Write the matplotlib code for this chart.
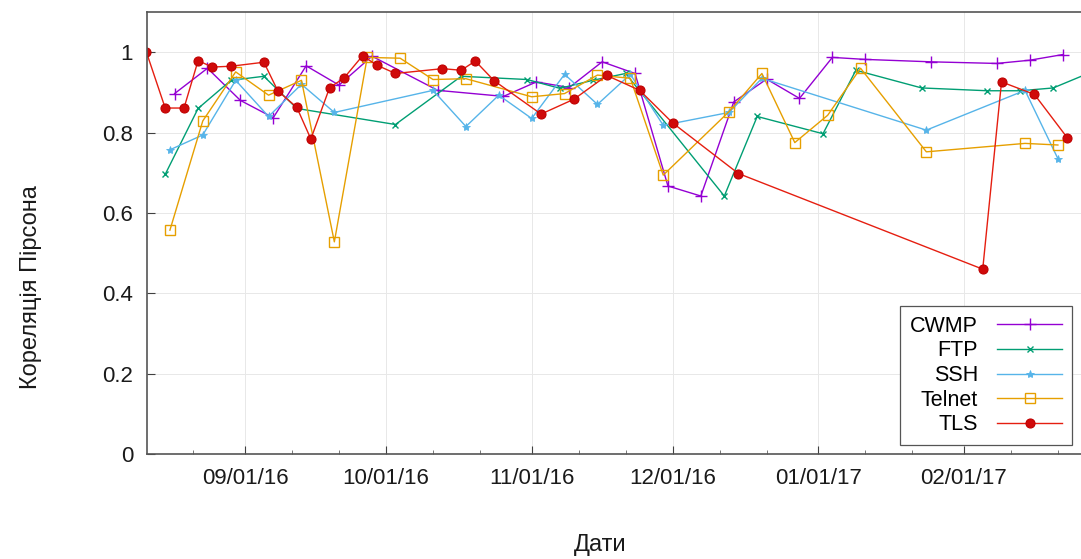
import matplotlib
matplotlib.use('Agg')
import matplotlib.pyplot as plt
import matplotlib.dates as mdates
import pandas as pd

# ---------------- data ----------------
cwmp_dates = ['2016-08-17', '2016-08-24', '2016-08-31', '2016-09-07', '2016-09-14', '2016-09-21',
              '2016-09-28', '2016-10-12', '2016-10-26', '2016-11-02', '2016-11-09', '2016-11-16',
              '2016-11-23', '2016-11-30', '2016-12-07', '2016-12-14', '2016-12-21', '2016-12-28',
              '2017-01-04', '2017-01-11', '2017-01-25', '2017-02-08', '2017-02-15', '2017-02-22']
cwmp_vals = [0.897, 0.96, 0.88, 0.837, 0.966, 0.918,
             0.99, 0.905, 0.89, 0.926, 0.912, 0.976,
             0.947, 0.667, 0.642, 0.876, 0.933, 0.885,
             0.987, 0.982, 0.976, 0.972, 0.98, 0.994]

ftp_dates = ['2016-08-15', '2016-08-22', '2016-08-29', '2016-09-05', '2016-09-12', '2016-10-03',
             '2016-10-17', '2016-10-31', '2016-11-07', '2016-11-14', '2016-11-21', '2016-12-12',
             '2016-12-19', '2017-01-02', '2017-01-09', '2017-01-23', '2017-02-06', '2017-02-13',
             '2017-02-20', '2017-02-27']
ftp_vals = [0.696, 0.86, 0.93, 0.94, 0.86, 0.82,
            0.94, 0.932, 0.91, 0.93, 0.947, 0.642,
            0.84, 0.797, 0.955, 0.911, 0.904, 0.904,
            0.911, 0.945]

ssh_dates = ['2016-08-16', '2016-08-23', '2016-08-30', '2016-09-06', '2016-09-13', '2016-09-20',
             '2016-10-11', '2016-10-18', '2016-10-25', '2016-11-01', '2016-11-08', '2016-11-15',
             '2016-11-22', '2016-11-29', '2016-12-13', '2016-12-20', '2017-01-24', '2017-02-14',
             '2017-02-21']
ssh_vals = [0.757, 0.794, 0.93, 0.84, 0.92, 0.85,
            0.905, 0.815, 0.893, 0.835, 0.945, 0.87,
            0.945, 0.818, 0.85, 0.935, 0.806, 0.905,
            0.735]

telnet_dates = ['2016-08-16', '2016-08-23', '2016-08-30', '2016-09-06', '2016-09-13', '2016-09-20',
                '2016-09-27', '2016-10-04', '2016-10-11', '2016-10-18', '2016-11-01', '2016-11-08',
                '2016-11-15', '2016-11-22', '2016-11-29', '2016-12-13', '2016-12-20', '2016-12-27',
                '2017-01-03', '2017-01-10', '2017-01-24', '2017-02-14', '2017-02-21']
telnet_vals = [0.557, 0.829, 0.951, 0.893, 0.93, 0.528,
               0.987, 0.985, 0.932, 0.934, 0.889, 0.897,
               0.943, 0.935, 0.694, 0.852, 0.947, 0.775,
               0.843, 0.96, 0.752, 0.773, 0.769]

tls_dates = ['2016-08-11', '2016-08-15', '2016-08-19', '2016-08-22', '2016-08-25', '2016-08-29',
             '2016-09-05', '2016-09-08', '2016-09-12', '2016-09-15', '2016-09-19', '2016-09-22',
             '2016-09-26', '2016-09-29', '2016-10-03', '2016-10-13', '2016-10-17', '2016-10-20',
             '2016-10-24', '2016-11-03', '2016-11-10', '2016-11-17', '2016-11-24', '2016-12-01',
             '2016-12-15', '2017-02-05', '2017-02-09', '2017-02-16', '2017-02-23']
tls_vals = [1.0, 0.861, 0.861, 0.979, 0.963, 0.965,
            0.975, 0.903, 0.863, 0.784, 0.912, 0.935,
            0.991, 0.968, 0.947, 0.959, 0.955, 0.978,
            0.929, 0.846, 0.883, 0.942, 0.905, 0.824,
            0.698, 0.46, 0.926, 0.895, 0.787]

series_names = ['CWMP', 'FTP', 'SSH', 'Telnet', 'TLS']
y_ticks = [0, 0.2, 0.4, 0.6, 0.8, 1.0]
y_tick_labels = ['0', '0.2', '0.4', '0.6', '0.8', '1']
x_label = 'Дати'
y_label = 'Кореляція Пірсона'

# ---------------- plot ----------------
plt.rcParams['font.family'] = ['Liberation Sans', 'DejaVu Sans']

fig = plt.figure(figsize=(10.81, 5.59), dpi=100)
ax = fig.add_axes([147 / 1081, 1 - 454 / 559, 1 - 147 / 1081, (454 - 12) / 559])

styles = {
    'CWMP':   dict(color='#9400d3', marker='+', ms=8, mew=1.0),
    'FTP':    dict(color='#009e73', marker='x', ms=5, mew=1.0),
    'SSH':    dict(color='#56b4e9', marker='*', ms=6, mew=0.6),
    'Telnet': dict(color='#e69f00', marker='s', ms=7, mew=1.0, mfc='none'),
    'TLS':    dict(color='#e51e10', marker='o', ms=6.5, mew=0.8, mec='#c00000', mfc='#d00a0a'),
}
data = {
    'CWMP': (cwmp_dates, cwmp_vals),
    'FTP': (ftp_dates, ftp_vals),
    'SSH': (ssh_dates, ssh_vals),
    'Telnet': (telnet_dates, telnet_vals),
    'TLS': (tls_dates, tls_vals),
}
for name in series_names:
    d, v = data[name]
    ax.plot(pd.to_datetime(d), v, lw=1.0, label=name, **styles[name])

ax.set_xlim(pd.Timestamp('2016-08-11 03:00'), pd.Timestamp('2017-02-25 22:00'))
ax.set_ylim(0, 1.1)

ax.xaxis.set_major_locator(mdates.MonthLocator(bymonthday=1))
ax.xaxis.set_major_formatter(mdates.DateFormatter('%m/%d/%y'))
ax.xaxis.set_minor_locator(mdates.DayLocator(bymonthday=[11, 21]))
ax.set_yticks(y_ticks)
ax.set_yticklabels(y_tick_labels)

ax.tick_params(axis='both', which='major', direction='in', length=6, width=0.8,
               labelsize=16, pad=10, colors='#404040', labelcolor='#1a1a1a')
ax.tick_params(axis='x', which='minor', direction='in', length=3, width=0.6, colors='#606060')

for s in ['left', 'bottom', 'top']:
    ax.spines[s].set_color('#555555')
    ax.spines[s].set_linewidth(1.2)
ax.spines['right'].set_visible(False)

ax.grid(True, which='major', color='#e8e8e8', lw=0.7, ls='-')
ax.set_axisbelow(True)

ax.set_xlabel(x_label, fontsize=17, color='#1a1a1a')
ax.set_ylabel(y_label, fontsize=17, color='#1a1a1a')
ax.xaxis.set_label_coords((600 - 147) / 934, -(545 - 454) / 442)
ax.yaxis.set_label_coords(-(147 - 31) / 934, (454 - 287) / 442)
ax.xaxis.label.set_va('center')
ax.yaxis.label.set_va('center')

leg = ax.legend(loc='lower right', bbox_to_anchor=(0.990, 0.020), borderaxespad=0,
                markerfirst=False, fontsize=15.5, handlelength=3.0, handletextpad=0.9,
                labelspacing=0.17, borderpad=0.45, fancybox=False, framealpha=1,
                edgecolor='#555555')
leg.get_frame().set_linewidth(0.9)

fig.savefig('out.png', dpi=100)
